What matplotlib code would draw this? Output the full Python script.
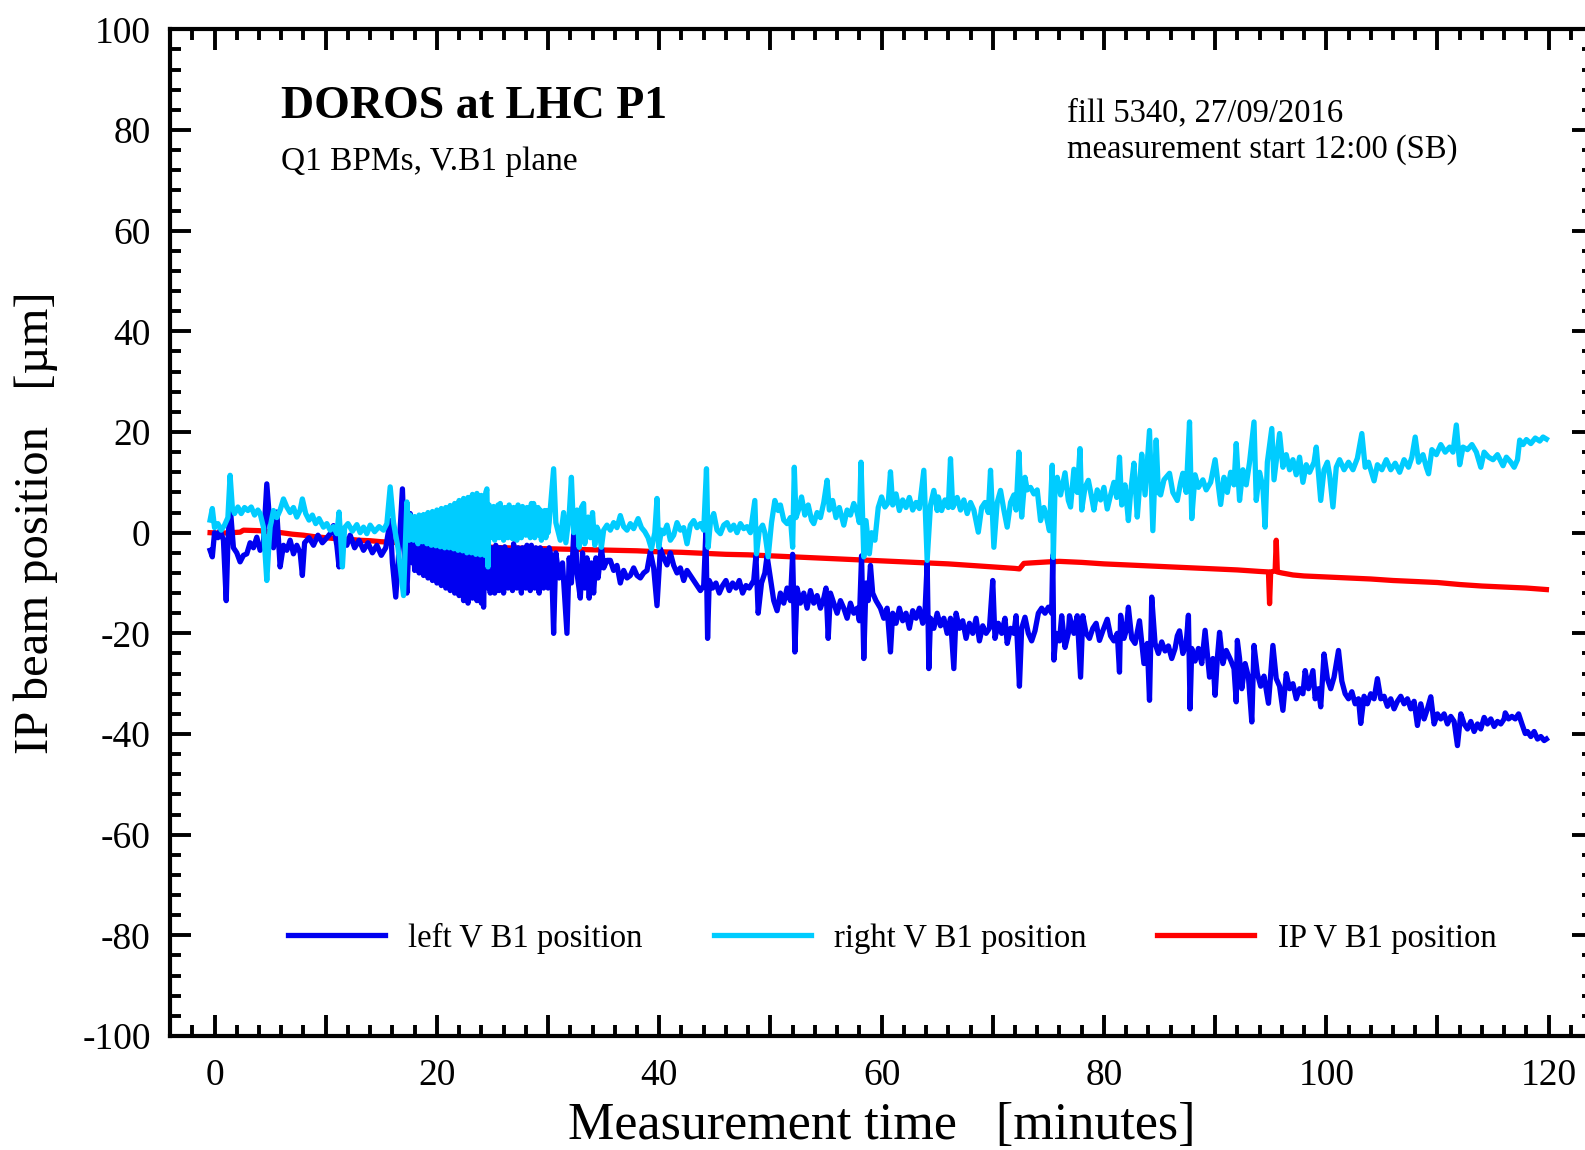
import numpy as np
import matplotlib
matplotlib.use("Agg")
import matplotlib.pyplot as plt
from matplotlib.ticker import MultipleLocator, FuncFormatter

plt.rcParams['font.family'] = ['Liberation Serif', 'DejaVu Serif']
plt.rcParams['axes.unicode_minus'] = False

# ---- data: (minutes, position in um) ----
left_pts = [
    (-0.4, -3.5), (-0.2, -4.8), (0.0, 0.0), (0.3, -1.0), (0.5, 0.5), (0.8, -1.5), (1.05, -13.5),
    (1.2, -2.0), (1.4, 5.4), (1.7, -3.0), (2.0, -4.0), (2.3, -5.8), (2.6, -4.5), (2.9, -4.2),
    (3.2, -2.0), (3.5, -3.0), (3.8, -0.9), (4.1, -3.5), (4.4, -2.0), (4.7, 9.7), (5.0, 1.1),
    (5.3, -3.0), (5.6, 4.1), (5.9, -6.8), (6.2, -2.5), (6.5, -3.5), (6.8, -1.5), (7.1, -4.2),
    (7.4, -2.5), (7.7, -4.0), (7.9, -8.5), (8.1, -2.0), (8.5, -1.0), (8.9, -2.5), (9.3, -0.5),
    (9.7, -2.0), (10.1, -1.0), (10.4, -0.2), (10.7, 1.4), (11.0, -2.5), (11.2, -6.8), (11.5, -1.5),
    (11.9, -2.5), (12.2, -0.5), (12.6, -3.0), (13.0, -1.5), (13.4, -3.5), (13.8, -2.0), (14.2, -4.0),
    (14.6, -2.5), (15.0, -4.5), (15.4, -3.0), (15.8, 2.4), (16.0, -6.0), (16.3, -12.8), (16.6, -3.0),
    (16.9, 8.7), (17.1, -4.0), (17.3, -12.0), (17.6, 3.8),
    (17.8, -6.0), (17.9, 0.0), (18.0, -7.5), (18.1, 0.8), (18.2, -5.0), (18.3, -1.0), (18.4, -8.0),
    (18.5, 0.5), (18.6, -6.5), (18.7, -0.5), (18.8, -8.5), (18.9, 1.2), (19.0, -7.0), (19.1, -1.5),
    (19.2, -9.0), (19.3, 0.2), (19.4, -6.0), (19.5, -2.0), (19.6, -9.5), (19.7, -0.5), (19.8, -7.5),
    (19.9, -2.5), (20.0, -10.0), (20.1, -0.2), (20.2, -8.0), (20.3, -3.0), (20.4, -10.5), (20.5, -1.0),
    (20.6, -7.0), (20.7, -3.5), (20.8, -11.0), (20.9, -0.5), (21.0, -8.5), (21.1, -2.5), (21.2, -11.5),
    (21.3, -0.2), (21.4, -9.0), (21.5, -3.5), (21.6, -12.0), (21.7, -1.5), (21.8, -8.0), (21.9, -4.0),
    (22.0, -12.5), (22.1, -1.0), (22.2, -10.0), (22.3, -4.5), (22.4, -13.5), (22.5, -2.0), (22.6, -9.0),
    (22.7, -5.0), (22.8, -14.0), (22.9, -1.5), (23.0, -11.0), (23.1, -4.0), (23.2, -13.0), (23.3, -2.5),
    (23.4, -9.5), (23.5, -5.5), (23.6, -13.5), (23.7, -1.5), (23.8, -10.5), (23.9, -4.0), (24.0, -14.0),
    (24.1, -3.0), (24.2, -14.8), (24.3, -5.0), (24.4, -2.0), (24.5, -0.5), (24.6, -11.0), (24.7, -4.0),
    (24.8, -12.0), (24.9, -3.0), (25.0, -10.5), (25.1, -5.0), (25.2, -12.0), (25.3, -2.5), (25.4, -9.5),
    (25.5, -4.5), (25.6, -11.5), (25.7, -3.0), (25.8, -10.0), (25.9, -5.0), (26.0, -12.0), (26.1, -2.8),
    (26.2, -9.0), (26.3, -4.0), (26.4, -11.0), (26.5, -3.5), (26.6, -10.5), (26.7, -5.5), (26.8, -11.5),
    (26.9, -2.2), (27.0, -8.5), (27.1, -4.5), (27.2, -11.0), (27.3, -3.0), (27.4, -10.0), (27.5, -5.0),
    (27.6, -12.0), (27.7, -3.0), (27.8, -9.0), (27.9, -4.5), (28.0, -11.0), (28.1, -2.5), (28.2, -10.0),
    (28.3, -5.0), (28.4, -11.5), (28.5, -2.5), (28.6, -9.5), (28.7, -4.0), (28.8, -11.0), (28.9, -3.0),
    (29.0, -10.0), (29.1, -5.0), (29.2, -12.0), (29.3, -3.0), (29.4, -9.0), (29.5, -4.5), (29.6, -11.0),
    (29.7, -3.5), (29.8, -10.0), (29.9, -4.0), (30.0, -11.0), (30.1, -3.0),
    (30.3, -5.0), (30.5, -20.0),
    (30.7, -4.0), (31.0, -9.0), (31.3, -6.0), (31.7, -20.0), (31.9, -5.0), (32.1, -10.0), (32.4, 4.4),
    (32.6, -8.0), (32.9, -13.0), (33.1, -4.0), (33.3, -11.0), (33.5, -5.0), (33.7, -13.0), (33.9, -6.0),
    (34.1, -12.0), (34.3, -5.0), (34.5, -9.0), (34.8, -2.9), (35.0, -7.0), (35.3, -5.5), (35.6, -5.5),
    (35.9, -7.5), (36.2, -6.5), (36.5, -10.0), (36.8, -7.5), (37.1, -9.0), (37.4, -8.5), (37.7, -7.0),
    (38.0, -8.5), (38.3, -9.0), (38.6, -8.0), (38.9, -7.5), (39.2, -3.8), (39.5, -7.0), (39.8, -14.5),
    (40.1, -3.2), (40.4, -5.0), (40.7, -6.4), (41.0, -4.0), (41.3, -6.5), (41.6, -8.0), (41.9, -7.0),
    (42.2, -9.5), (42.5, -7.5), (42.8, -8.5), (43.1, -9.5), (43.4, -10.5), (43.7, -11.5), (44.0, -10.5),
    (44.2, 0.5), (44.35, -21.0), (44.5, -9.5), (44.8, -11.0), (45.1, -10.0), (45.4, -12.0), (45.7, -10.5),
    (46.0, -9.5), (46.3, -11.5), (46.6, -10.0), (46.9, -11.0), (47.2, -9.5), (47.5, -12.0), (47.8, -10.5),
    (48.1, -11.0), (48.5, -9.5), (48.7, -4.5), (48.9, -16.0), (49.2, -10.0), (49.5, -8.0), (49.7, -4.6),
    (50.0, -9.0), (50.3, -13.5), (50.6, -15.5), (50.9, -12.0), (51.2, -14.0), (51.5, -11.0), (51.8, -13.5),
    (52.0, -4.3), (52.2, -23.7), (52.4, -11.0), (52.7, -14.0), (53.0, -12.0), (53.3, -15.0), (53.6, -11.5),
    (53.9, -14.0), (54.2, -12.5), (54.5, -15.0), (54.8, -13.0), (55.0, -11.0), (55.2, -21.0), (55.4, -12.0),
    (55.7, -14.0), (56.0, -16.0), (56.3, -13.5), (56.6, -15.0), (56.9, -17.0), (57.2, -14.0), (57.5, -16.0),
    (57.8, -15.0), (58.0, -17.5), (58.2, -4.6), (58.4, -25.0), (58.6, -10.0), (58.8, -13.5), (59.0, -6.5),
    (59.2, -12.0), (59.5, -13.5), (59.9, -15.0), (60.2, -17.0), (60.5, -15.0), (60.8, -23.7), (61.0, -16.0),
    (61.3, -18.0), (61.6, -15.0), (61.9, -17.5), (62.2, -16.0), (62.5, -19.0), (62.8, -15.5), (63.1, -17.0),
    (63.4, -15.0), (63.7, -18.0), (63.9, -16.0), (64.1, -6.0), (64.25, -27.0), (64.4, -17.0), (64.7, -19.0),
    (65.0, -16.0), (65.3, -18.5), (65.6, -17.0), (65.9, -20.0), (66.2, -17.0), (66.5, -27.0), (66.7, -16.0),
    (67.0, -19.0), (67.3, -17.5), (67.6, -21.0), (67.9, -18.0), (68.2, -20.0), (68.5, -17.0), (68.8, -21.5),
    (69.1, -18.5), (69.4, -20.0), (69.7, -19.0), (70.0, -9.5), (70.2, -21.0), (70.5, -18.0), (70.8, -20.0),
    (71.1, -17.0), (71.3, -22.0), (71.6, -19.0), (71.9, -20.0), (72.1, -16.5), (72.4, -30.5), (72.6, -19.0),
    (72.9, -16.8), (73.2, -20.0), (73.5, -21.5), (73.8, -19.5), (74.1, -16.0), (74.4, -15.0), (74.7, -16.0),
    (75.0, -14.8), (75.3, -16.0), (75.4, -4.5), (75.5, -25.3), (75.7, -20.0), (76.0, -21.5), (76.2, -16.5),
    (76.5, -22.8), (76.8, -20.0), (76.9, -16.5), (77.3, -20.0), (77.6, -16.5), (77.9, -28.7), (78.1, -16.5),
    (78.4, -20.0), (78.7, -21.0), (79.0, -19.0), (79.3, -18.0), (79.6, -21.4), (79.9, -19.5), (80.3, -17.2),
    (80.6, -20.5), (80.9, -21.5), (81.2, -20.0), (81.4, -27.7), (81.5, -16.4), (81.8, -21.0), (82.0, -19.5),
    (82.2, -14.8), (82.5, -21.0), (82.8, -22.0), (83.2, -17.5), (83.6, -26.0), (83.9, -22.0), (84.1, -33.3),
    (84.3, -12.8), (84.6, -22.0), (84.9, -24.0), (85.2, -21.7), (85.5, -23.5), (85.8, -22.5), (86.1, -25.0),
    (86.4, -23.0), (86.6, -20.5), (86.8, -19.5), (87.1, -24.0), (87.4, -22.0), (87.6, -16.4), (87.75, -35.0),
    (87.9, -23.0), (88.2, -25.5), (88.5, -23.0), (88.8, -26.0), (89.1, -19.4), (89.3, -24.0), (89.5, -28.7),
    (89.8, -25.0), (90.0, -32.3), (90.2, -25.0), (90.4, -19.8), (90.7, -26.0), (91.0, -23.4), (91.4, -25.3),
    (91.7, -27.0), (91.9, -33.6), (92.0, -21.4), (92.2, -25.0), (92.4, -31.0), (92.7, -26.0), (93.0, -28.7),
    (93.3, -37.6), (93.5, -22.4), (93.8, -28.0), (94.1, -30.5), (94.4, -28.5), (94.8, -33.9), (95.2, -22.4),
    (95.5, -29.0), (95.8, -30.5), (96.1, -35.3), (96.4, -28.0), (96.7, -31.0), (97.0, -30.0), (97.3, -33.0),
    (97.6, -31.0), (97.9, -32.0), (98.1, -27.4), (98.4, -31.0), (98.8, -27.4), (99.0, -33.0), (99.3, -31.0),
    (99.5, -34.6), (99.8, -24.1), (100.1, -29.0), (100.4, -31.0), (100.7, -28.7), (101.1, -23.4), (101.4, -29.5),
    (101.7, -32.0), (102.0, -33.0), (102.3, -31.6), (102.6, -34.0), (102.9, -33.0), (103.1, -37.9), (103.4, -32.5),
    (103.7, -34.0), (104.0, -32.0), (104.3, -33.0), (104.6, -29.0), (104.9, -33.0), (105.2, -32.5), (105.5, -34.5),
    (105.8, -33.0), (106.1, -35.0), (106.4, -33.5), (106.7, -32.5), (107.0, -34.0), (107.3, -33.0), (107.6, -35.0),
    (107.9, -33.5), (108.2, -38.3), (108.5, -34.0), (108.8, -37.0), (109.1, -35.0), (109.4, -32.6), (109.7, -38.0),
    (110.0, -36.0), (110.3, -37.0), (110.6, -36.0), (110.9, -38.0), (111.2, -36.5), (111.5, -37.5), (111.8, -42.3),
    (112.1, -36.0), (112.4, -38.0), (112.7, -39.0), (113.0, -37.5), (113.3, -39.5), (113.6, -38.0), (113.9, -39.0),
    (114.2, -36.7), (114.5, -38.0), (114.8, -37.0), (115.1, -38.5), (115.4, -37.5), (115.7, -38.0), (116.0, -37.0),
    (116.1, -35.8), (116.4, -37.0), (116.7, -36.5), (117.0, -37.0), (117.3, -36.0), (117.6, -38.0), (117.9, -39.9),
    (118.1, -39.5), (118.4, -40.5), (118.7, -39.5), (119.0, -41.0), (119.3, -40.5), (119.6, -41.3), (119.8, -41.0),
]

right_pts = [
    (-0.4, 2.5), (-0.2, 4.8), (0.0, 1.0), (0.3, 1.8), (0.6, 0.5), (0.9, 1.5), (1.2, 3.0), (1.4, 11.4),
    (1.6, 5.0), (1.8, 3.8), (2.1, 5.1), (2.4, 3.8), (2.7, 5.0), (3.0, 4.4), (3.3, 5.1), (3.6, 3.5),
    (3.9, 4.5), (4.1, 3.8), (4.4, 1.1), (4.7, -9.5), (4.9, -2.0), (5.0, 1.1), (5.3, 4.4), (5.6, 3.0),
    (5.9, 4.5), (6.2, 6.7), (6.5, 5.1), (6.8, 4.0), (7.1, 5.0), (7.4, 3.1), (7.7, 4.5), (7.9, 6.7),
    (8.2, 3.8), (8.5, 2.5), (8.8, 3.5), (9.1, 1.8), (9.4, 2.8), (9.8, 1.1), (10.1, 1.8), (10.4, 0.5),
    (10.7, 1.2), (11.0, -0.2), (11.2, 4.1), (11.5, -6.8), (11.7, 1.0), (12.0, 1.8), (12.4, 0.3), (12.8, 1.6),
    (13.1, 0.0), (13.4, 1.1), (13.7, -0.2), (14.0, 1.5), (14.4, 0.2), (14.8, 1.2), (15.2, 0.5), (15.5, 1.8),
    (15.8, 9.1), (16.1, 2.0), (16.5, -3.0), (17.0, -12.5), (17.3, 6.1), (17.5, -1.5),
    (17.6, 3.5), (17.7, -1.0), (17.8, 2.5), (17.9, -1.5), (18.0, 3.2), (18.1, -0.5), (18.2, 2.0),
    (18.3, -2.2), (18.4, 3.5), (18.5, -1.0), (18.6, 2.8), (18.7, -1.8), (18.8, 3.6), (18.9, -0.8),
    (19.0, 3.0), (19.1, -2.2), (19.2, 4.0), (19.3, -1.2), (19.4, 3.2), (19.5, -2.5), (19.6, 4.2),
    (19.7, -1.0), (19.8, 3.6), (19.9, -2.6), (20.0, 4.5), (20.1, -1.5), (20.2, 3.8), (20.3, -2.8),
    (20.4, 4.8), (20.5, -1.2), (20.6, 4.0), (20.7, -3.0), (20.8, 5.0), (20.9, -2.0), (21.0, 4.4),
    (21.1, -3.0), (21.2, 5.4), (21.3, -1.8), (21.4, 4.6), (21.5, -3.2), (21.6, 5.8), (21.7, -2.4),
    (21.8, 5.0), (21.9, -3.5), (22.0, 6.4), (22.1, -2.0), (22.2, 5.4), (22.3, -3.6), (22.4, 6.8),
    (22.5, -2.6), (22.6, 5.8), (22.7, -4.0), (22.8, 7.0), (22.9, -2.8), (23.0, 6.2), (23.1, -4.0),
    (23.2, 7.6), (23.3, -3.0), (23.4, 6.6), (23.5, -4.3), (23.6, 7.8), (23.7, -3.2), (23.8, 6.8),
    (23.9, -4.4), (24.0, 7.4), (24.1, -3.6), (24.2, 6.9), (24.3, -4.5), (24.4, 8.0), (24.5, 8.7),
    (24.6, -6.8), (24.7, 5.5), (24.8, -1.0), (24.9, 4.5), (25.0, 0.0), (25.1, 5.2), (25.2, -1.5),
    (25.3, 4.0), (25.4, 0.5), (25.5, 5.5), (25.6, -1.0), (25.7, 5.8), (25.8, 0.0), (25.9, 4.2),
    (26.0, -1.5), (26.1, 5.0), (26.2, 0.5), (26.3, 4.5), (26.4, -1.0), (26.5, 5.5), (26.6, 0.0),
    (26.7, 4.0), (26.8, -1.2), (26.9, 5.0), (27.0, 0.5), (27.1, 4.5), (27.2, -1.5), (27.3, 5.5),
    (27.4, 0.0), (27.5, 4.0), (27.6, -1.0), (27.7, 5.2), (27.8, 0.5), (27.9, 4.5), (28.0, -0.5),
    (28.1, 5.0), (28.2, 0.0), (28.3, 4.2), (28.4, -1.0), (28.5, 5.8), (28.6, 0.5), (28.7, 5.8),
    (28.8, -1.0), (28.9, 4.0), (29.0, 0.0), (29.1, 5.0), (29.2, -0.5), (29.3, 4.5), (29.4, -1.5),
    (29.5, 4.0), (29.6, 0.5), (29.7, 4.4), (29.8, -1.0), (29.9, 4.4), (30.0, 0.0), (30.1, 2.0),
    (30.5, 12.7), (30.7, 2.0), (31.1, -1.5),
    (31.4, 4.0), (31.6, -2.0), (31.9, 3.5), (32.1, 11.0), (32.3, 0.0), (32.6, 4.5), (32.8, -2.9), (33.0, 5.0),
    (33.2, 5.8), (33.3, -2.2), (33.6, 3.1), (33.8, -1.0), (34.0, 4.0), (34.2, -2.5), (34.4, 1.1), (34.6, 0.0),
    (34.8, -2.9), (35.0, 0.5), (35.3, 1.5), (35.6, 0.5), (35.9, 2.0), (36.2, 1.0), (36.5, 3.4), (36.8, 1.2),
    (37.1, 0.5), (37.4, 1.8), (37.7, 0.8), (38.1, 2.8), (38.4, 1.0), (38.7, 0.2), (39.0, -1.0), (39.3, -3.2),
    (39.6, 0.0), (39.8, 6.8), (39.95, -2.9), (40.2, 0.5), (40.4, -0.2), (40.7, 1.5), (41.0, -1.5), (41.3, -0.5),
    (41.6, 2.0), (41.9, 0.5), (42.2, 1.0), (42.5, -2.2), (42.8, 1.5), (43.1, 2.4), (43.4, 1.0), (43.7, 1.8),
    (44.0, 0.5), (44.25, 12.7), (44.4, -2.9), (44.6, 2.0), (44.9, 3.8), (45.2, 0.5), (45.5, -0.2), (45.8, 1.5),
    (46.1, 2.0), (46.4, 0.5), (46.7, 1.5), (47.0, 0.0), (47.3, 1.8), (47.6, 0.8), (47.9, 1.2), (48.2, 0.0),
    (48.6, 6.4), (48.75, -4.2), (49.0, 0.5), (49.3, 1.5), (49.5, 0.0), (49.8, -4.8), (50.1, 2.0), (50.4, 6.4),
    (50.7, 4.4), (50.9, 5.5), (51.2, 2.5), (51.5, 1.8), (51.8, 3.0), (52.0, -2.9), (52.15, 13.0), (52.3, 3.0),
    (52.6, 5.0), (52.8, 7.1), (53.1, 3.5), (53.4, 5.5), (53.7, 2.5), (53.9, 1.8), (54.2, 4.0), (54.5, 3.0),
    (54.8, 6.0), (55.1, 10.4), (55.3, 4.5), (55.6, 6.4), (55.9, 3.0), (56.2, 5.0), (56.6, 1.5), (56.9, 4.5),
    (57.2, 3.5), (57.5, 5.8), (57.8, 4.0), (58.0, 2.0), (58.15, 14.0), (58.4, -4.8), (58.6, 2.4), (58.9, -4.2),
    (59.1, 0.0), (59.4, -1.5), (59.7, 5.0), (60.0, 7.1), (60.3, 5.1), (60.6, 6.0), (60.8, 12.1), (61.0, 5.5),
    (61.3, 7.7), (61.6, 4.4), (61.9, 6.5), (62.2, 5.0), (62.5, 7.0), (62.8, 4.5), (63.1, 6.0), (63.4, 4.8),
    (63.8, 12.4), (64.1, -5.5), (64.4, 5.5), (64.7, 8.4), (65.0, 4.4), (65.1, 7.1), (65.4, 4.4), (65.7, 6.5),
    (66.0, 5.0), (66.2, 14.7), (66.4, 5.0), (66.8, 7.0), (67.1, 4.5), (67.4, 6.5), (67.7, 3.8), (68.0, 6.0),
    (68.3, 4.5), (68.7, 0.1), (69.0, 5.0), (69.3, 6.0), (69.6, 4.0), (69.8, 12.4), (70.1, -2.9), (70.4, 6.0),
    (70.7, 8.4), (71.0, 4.5), (71.3, 1.1), (71.6, 6.0), (71.9, 7.5), (72.1, 4.5), (72.35, 16.0), (72.6, 3.1),
    (72.9, 11.0), (73.1, 8.5), (73.4, 9.0), (73.7, 7.7), (74.0, 8.5), (74.3, 2.4), (74.6, 5.0), (74.8, 3.5),
    (75.1, 0.4), (75.35, 13.4), (75.45, -4.9), (75.6, 9.0), (75.8, 11.0), (76.1, 7.5), (76.5, 11.9), (76.8, 6.4),
    (77.0, 5.1), (77.3, 12.6), (77.6, 8.0), (77.85, 16.7), (78.0, 4.5), (78.3, 9.0), (78.6, 10.4), (78.9, 7.0),
    (79.1, 4.5), (79.4, 8.5), (79.7, 6.5), (80.0, 9.0), (80.3, 4.7), (80.6, 7.5), (80.9, 10.0), (81.15, 7.0),
    (81.4, 15.0), (81.6, 5.5), (81.9, 9.5), (82.2, 2.4), (82.4, 8.0), (82.7, 13.8), (83.0, 3.1), (83.2, 9.0),
    (83.4, 15.6), (83.7, 7.5), (84.1, 20.3), (84.4, 0.4), (84.7, 18.4), (84.9, 8.0), (85.1, 7.5), (85.4, 10.5),
    (85.9, 11.8), (86.2, 8.0), (86.6, 6.4), (86.9, 10.0), (87.1, 11.8), (87.4, 8.0), (87.7, 22.0), (87.9, 2.8),
    (88.2, 11.5), (88.5, 9.0), (88.9, 10.5), (89.2, 8.5), (89.6, 10.0), (90.0, 14.5), (90.5, 5.6), (90.8, 11.0),
    (91.1, 8.0), (91.4, 12.0), (91.7, 9.5), (91.9, 17.7), (92.2, 6.4), (92.5, 12.5), (92.8, 9.5), (93.1, 14.0),
    (93.5, 22.0), (93.7, 6.4), (94.0, 12.0), (94.3, 9.0), (94.5, 1.1), (94.7, 14.0), (95.1, 20.7), (95.3, 10.5),
    (95.6, 16.0), (95.8, 19.7), (96.1, 13.0), (96.4, 15.5), (96.7, 12.5), (97.0, 14.5), (97.3, 11.5), (97.6, 15.0),
    (97.9, 10.0), (98.2, 13.5), (98.5, 12.0), (98.9, 14.0), (99.1, 17.0), (99.5, 6.4), (99.8, 12.5), (100.1, 14.0),
    (100.3, 11.5), (100.6, 5.1), (100.9, 13.0), (101.2, 14.5), (101.6, 12.5), (102.0, 14.0), (102.4, 12.5),
    (102.8, 14.8), (103.2, 19.7), (103.5, 13.0), (103.8, 14.0), (104.3, 10.3), (104.6, 13.5), (105.0, 12.5),
    (105.4, 14.5), (105.8, 12.5), (106.2, 13.8), (106.6, 12.0), (107.0, 14.5), (107.4, 13.0), (107.7, 15.0),
    (108.0, 19.0), (108.3, 14.0), (108.7, 15.5), (109.0, 13.0), (109.2, 11.7), (109.5, 16.5), (109.9, 15.5),
    (110.3, 17.5), (110.7, 16.0), (111.1, 17.0), (111.4, 16.0), (111.7, 21.4), (112.0, 13.5), (112.3, 17.0),
    (112.7, 16.5), (113.1, 17.5), (113.5, 16.0), (113.9, 13.0), (114.2, 16.0), (114.6, 15.0), (115.0, 14.5),
    (115.4, 15.5), (115.9, 13.3), (116.2, 15.0), (116.6, 14.0), (116.9, 13.0), (117.2, 14.5), (117.4, 18.4),
    (117.7, 17.5), (118.0, 18.5), (118.4, 17.7), (118.8, 18.8), (119.2, 18.2), (119.5, 19.0), (119.8, 18.6),
]

ip_pts = [
    (-0.4, 0.0), (0.5, -0.1), (1.5, 0.0), (2.3, 0.1), (2.6, 0.5), (4.0, 0.4), (5.0, 0.2), (6.0, 0.0),
    (7.0, -0.3), (8.0, -0.5), (9.0, -0.8), (10.0, -1.0), (11.0, -1.2), (12.0, -1.3), (13.0, -1.5),
    (14.0, -1.6), (15.0, -1.8), (16.0, -1.9), (17.0, -2.1), (18.0, -2.2), (19.0, -2.3), (20.0, -2.4),
    (22.0, -2.6), (24.0, -2.8), (26.0, -3.0), (28.0, -3.1), (30.0, -3.2), (32.0, -3.3), (34.0, -3.4),
    (36.0, -3.5), (38.0, -3.6), (40.0, -3.8), (42.0, -3.9), (44.0, -4.1), (46.0, -4.3), (48.0, -4.4),
    (50.0, -4.6), (52.0, -4.8), (54.0, -5.0), (56.0, -5.2), (58.0, -5.4), (60.0, -5.6), (62.0, -5.8),
    (64.0, -6.0), (66.0, -6.2), (68.0, -6.5), (70.0, -6.8), (72.0, -7.1), (72.4, -7.2), (72.8, -6.1),
    (73.5, -6.0), (75.0, -5.8), (76.0, -5.7), (78.0, -5.9), (80.0, -6.2), (82.0, -6.4), (84.0, -6.6),
    (86.0, -6.8), (88.0, -7.0), (90.0, -7.2), (92.0, -7.4), (94.0, -7.7), (94.8, -7.8), (94.9, -14.1),
    (95.0, -7.8), (95.4, -7.6), (95.5, -1.5), (95.6, -7.8), (96.0, -8.0), (97.0, -8.4), (98.0, -8.6),
    (100.0, -8.8), (102.0, -9.0), (104.0, -9.2), (106.0, -9.5), (108.0, -9.7), (110.0, -9.9),
    (112.0, -10.3), (114.0, -10.6), (116.0, -10.8), (118.0, -11.0), (119.8, -11.3),
]

series_labels = ["left V B1 position", "right V B1 position", "IP V B1 position"]
series_colors = ["#0000F0", "#00CCFF", "#FF0000"]

left_t, left_v = np.array(left_pts).T
right_t, right_v = np.array(right_pts).T
ip_t, ip_v = np.array(ip_pts).T

# ---- figure ----
fig = plt.figure(figsize=(15.85, 11.5), dpi=100)
ax = fig.add_axes([0.1073, 0.0991, 0.8978, 0.8754])

lw = 3.8
h_ip, = ax.plot(ip_t, ip_v, color=series_colors[2], lw=lw, zorder=2)
h_left, = ax.plot(left_t, left_v, color=series_colors[0], lw=lw, zorder=3)
h_right, = ax.plot(right_t, right_v, color=series_colors[1], lw=lw, zorder=4)
h_left.set_label(series_labels[0])
h_right.set_label(series_labels[1])
h_ip.set_label(series_labels[2])

ax.set_xlim(-4, 124)
ax.set_ylim(-100, 100)

ax.xaxis.set_major_locator(MultipleLocator(10))
ax.xaxis.set_minor_locator(MultipleLocator(2))
ax.xaxis.set_major_formatter(FuncFormatter(lambda v, p: f"{int(round(v))}" if round(v) % 20 == 0 else ""))
ax.yaxis.set_major_locator(MultipleLocator(20))
ax.yaxis.set_minor_locator(MultipleLocator(4))
ax.yaxis.set_major_formatter(FuncFormatter(lambda v, p: f"{int(round(v))}"))

ax.tick_params(which='both', direction='in', top=True, right=True, width=2.8, color='black')
ax.tick_params(which='major', length=15)
ax.tick_params(which='minor', length=8)
ax.tick_params(axis='x', which='major', labelsize=27, pad=16)
ax.tick_params(axis='y', which='major', labelsize=27, pad=14)
for sp in ax.spines.values():
    sp.set_linewidth(3.0)

ax.set_xlabel("Measurement time   [minutes]", fontsize=37.5)
ax.set_ylabel("IP beam position   [\u00b5m]", fontsize=35)
ax.xaxis.set_label_coords(0.5, -0.066)
ax.yaxis.set_label_coords(-0.079, 0.51)

ax.text(0.078, 0.9116, "DOROS at LHC P1", transform=ax.transAxes, fontsize=33,
        fontweight='bold', va='baseline', ha='left')
ax.text(0.078, 0.8606, "Q1 BPMs, V.B1 plane", transform=ax.transAxes, fontsize=24,
        va='baseline', ha='left')
ax.text(0.6304, 0.9082, "fill 5340, 27/09/2016", transform=ax.transAxes, fontsize=23.5,
        va='baseline', ha='left')
ax.text(0.6304, 0.872, "measurement start 12:00 (SB)", transform=ax.transAxes, fontsize=23.5,
        va='baseline', ha='left')

ax.legend(handles=[h_left, h_right, h_ip], loc='center left', bbox_to_anchor=(0.0829, 0.0973),
          ncol=3, frameon=False, fontsize=23.6, handlelength=2.96, handletextpad=0.71,
          columnspacing=2.16, borderpad=0, borderaxespad=0)

fig.savefig("out.png", dpi=100)
